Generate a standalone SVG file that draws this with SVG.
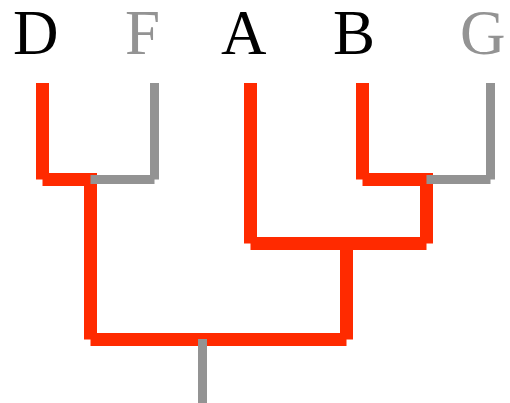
<svg xmlns="http://www.w3.org/2000/svg" width="510" height="403" viewBox="0 0 510 403">
<style>
text{font-family:'Liberation Serif','Times New Roman',Times,serif;font-size:63px}
.blk{fill:#000}
.gry{fill:#939393}
.r{stroke:#ff2a00;stroke-width:13;fill:none;stroke-linecap:butt}
.g{stroke:#939393;stroke-width:9;fill:none;stroke-linecap:butt}
</style>
<rect width="510" height="403" fill="#fff"/>
<g id="node-D"><text class="blk" x="13" y="53.5">D</text></g>
<g id="node-F"><text class="gry" x="125" y="53.5">F</text></g>
<g id="node-A"><text class="blk" x="221" y="53.5">A</text></g>
<g id="node-B"><text class="blk" x="333" y="53.5">B</text></g>
<g id="node-G"><text class="gry" x="460" y="53.5">G</text></g>
<g id="connectors">
<line class="r" x1="42.5" y1="83" x2="42.5" y2="179.5"/>
<line class="r" x1="42.5" y1="179.5" x2="97" y2="179.5"/>
<line class="r" x1="90.5" y1="173" x2="90.5" y2="339.5"/>
<line class="g" x1="154.5" y1="83" x2="154.5" y2="179.5"/>
<line class="g" x1="90.5" y1="179.5" x2="154.5" y2="179.5"/>
<line class="r" x1="362.5" y1="83" x2="362.5" y2="179.5"/>
<line class="r" x1="362.5" y1="179.5" x2="433" y2="179.5"/>
<line class="r" x1="426.5" y1="173" x2="426.5" y2="243.5"/>
<line class="g" x1="490.5" y1="83" x2="490.5" y2="179.5"/>
<line class="g" x1="426.5" y1="179.5" x2="490.5" y2="179.5"/>
<line class="r" x1="250.5" y1="83" x2="250.5" y2="243.5"/>
<line class="r" x1="250.5" y1="243.5" x2="426.5" y2="243.5"/>
<line class="r" x1="346.5" y1="243.5" x2="346.5" y2="339.5"/>
<line class="r" x1="90.5" y1="339.5" x2="346.5" y2="339.5"/>
<line class="g" x1="202.5" y1="339" x2="202.5" y2="403"/>
</g>
</svg>
